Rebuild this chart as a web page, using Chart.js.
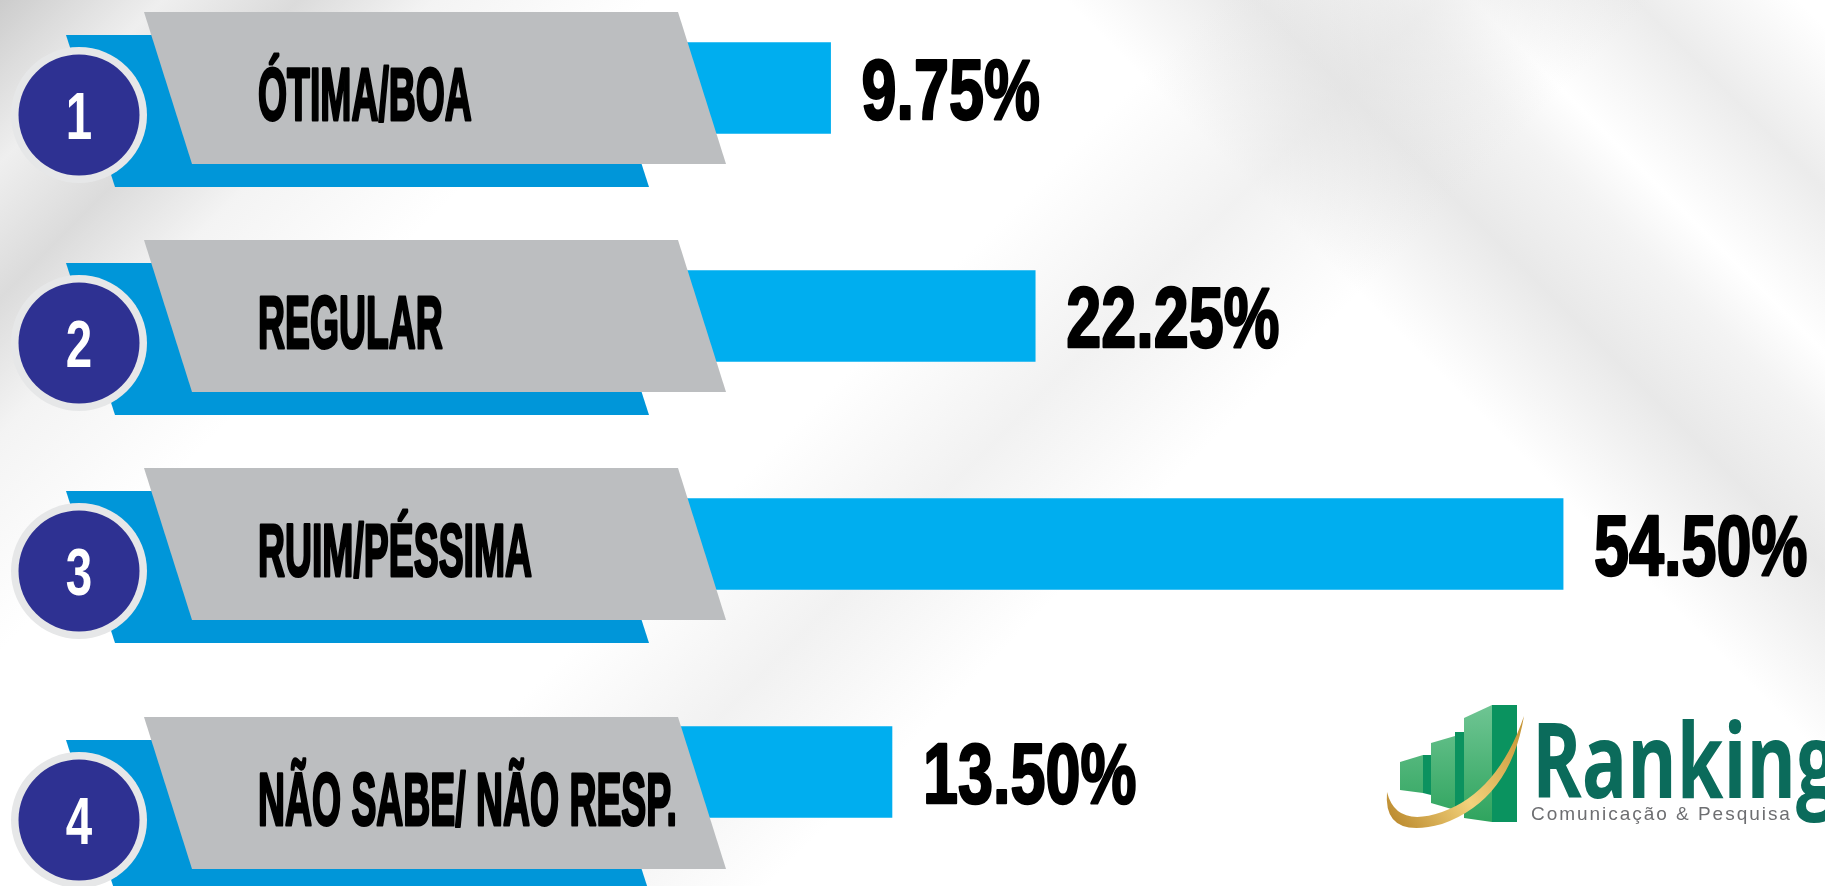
<!DOCTYPE html>
<html>
<head>
<meta charset="utf-8">
<script src="https://cdn.jsdelivr.net/npm/chart.js@4.4.0/dist/chart.umd.min.js"></script>
<style>
html, body { margin: 0; padding: 0; width: 1825px; height: 886px; overflow: hidden; }
body {
    background:
        linear-gradient(135deg, rgba(195,195,195,.85) 0%, rgba(228,228,228,.6) 6%, rgba(200,200,200,.65) 11%, rgba(232,232,232,.5) 16%, rgba(255,255,255,0) 24%),
        linear-gradient(135deg, rgba(255,255,255,0) 45%, rgba(225,225,225,.45) 53%, rgba(255,255,255,0) 61%),
        linear-gradient(45deg, rgba(255,255,255,0) 72%, rgba(205,205,205,.45) 79%, rgba(222,222,222,.35) 84%, rgba(255,255,255,0) 87%, rgba(212,212,212,.45) 93%, rgba(255,255,255,0) 99%),
        #ffffff;
}
#wrap { position: absolute; left: 0; top: -26px; width: 1825px; height: 912px; }
</style>
</head>
<body>
<div id="wrap"><canvas id="grafico"></canvas></div>
<script>
// dados do gráfico
const categorias = ['ÓTIMA/BOA', 'REGULAR', 'RUIM/PÉSSIMA', 'NÃO SABE/ NÃO RESP.'];
const porcentagens = [9.75, 22.25, 54.50, 13.50];
const numeros = ['1', '2', '3', '4'];

// deslocamento vertical dos enfeites de cada linha (a última está mais baixa)
const desloc = [0, 0, 0, 21];

function paralelogramo(ctx, x, y, w, h, incl, cor) {
    ctx.beginPath();
    ctx.moveTo(x, y);
    ctx.lineTo(x + w, y);
    ctx.lineTo(x + w + incl, y + h);
    ctx.lineTo(x + incl, y + h);
    ctx.closePath();
    ctx.fillStyle = cor;
    ctx.fill();
}

function texto(ctx, txt, x, y, tam, sx, cor, traco, alinhar) {
    ctx.save();
    ctx.translate(x, y);
    ctx.scale(sx, 1);
    ctx.font = 'bold ' + tam + 'px "Liberation Sans", Arial, sans-serif';
    ctx.textAlign = alinhar || 'left';
    ctx.textBaseline = 'alphabetic';
    ctx.fillStyle = cor;
    ctx.fillText(txt, 0, 0);
    if (traco) {
        ctx.lineWidth = traco;
        ctx.strokeStyle = cor;
        ctx.lineJoin = 'round';
        ctx.strokeText(txt, 0, 0);
    }
    ctx.restore();
}

const enfeites = {
    id: 'enfeites',
    beforeDatasetsDraw(chart) {
        const ctx = chart.ctx, y = chart.scales.y;
        categorias.forEach((c, i) => {
            const G = y.getPixelForValue(i) - 76 + desloc[i];
            paralelogramo(ctx, 66, G + 23, 534, 152, 49, '#0096D9');
        });
    },
    afterDatasetsDraw(chart) {
        const ctx = chart.ctx, x = chart.scales.x, y = chart.scales.y;
        categorias.forEach((c, i) => {
            const yc = y.getPixelForValue(i);
            const G = yc - 76 + desloc[i];
            // faixa cinza
            paralelogramo(ctx, 144, G, 534, 152, 48, '#BCBEC0');
            // círculo com número
            ctx.beginPath();
            ctx.arc(79, G + 103, 68, 0, Math.PI * 2);
            ctx.fillStyle = '#E6E7E8';
            ctx.fill();
            ctx.beginPath();
            ctx.arc(79, G + 103, 60.5, 0, Math.PI * 2);
            ctx.fillStyle = '#2E3192';
            ctx.fill();
            texto(ctx, numeros[i], 79, G + 127, 66, 0.72, '#ffffff', 0, 'center');
            // categoria
            texto(ctx, c, 258, G + 107.5, 74, 0.505, '#000000', 3);
            // porcentagem
            const xv = x.getPixelForValue(porcentagens[i]);
            texto(ctx, porcentagens[i].toFixed(2) + '%', xv + 31, yc + 30.5, 85, 0.74, '#000000', 2.5);
        });
    },
    afterDraw(chart) {
        const ctx = chart.ctx;
        ctx.save();
        ctx.translate(0, 26);
        // ícone: barras verdes
        const poli = (pts, cor) => {
            ctx.beginPath();
            ctx.moveTo(pts[0][0], pts[0][1]);
            pts.slice(1).forEach(p => ctx.lineTo(p[0], p[1]));
            ctx.closePath();
            ctx.fillStyle = cor;
            ctx.fill();
        };
        const claro = ctx.createLinearGradient(0, 705, 0, 822);
        claro.addColorStop(0, '#6FC593');
        claro.addColorStop(1, '#2FA45E');
        poli([[1400, 762], [1423, 755], [1423, 793], [1400, 790]], claro);
        poli([[1423, 755], [1431, 755], [1431, 795], [1423, 793]], '#0B925F');
        poli([[1431, 743], [1455, 736], [1455, 810], [1431, 803]], claro);
        poli([[1455, 732], [1464, 732], [1464, 813], [1455, 810]], '#0B925F');
        poli([[1464, 718], [1492, 705], [1492, 822], [1464, 818]], claro);
        poli([[1492, 705], [1517, 705], [1517, 822], [1492, 822]], '#0A935F');
        // arco dourado
        const ouro = ctx.createLinearGradient(1385, 820, 1525, 715);
        ouro.addColorStop(0, '#B8862A');
        ouro.addColorStop(0.45, '#F3D27C');
        ouro.addColorStop(1, '#C18F2E');
        ctx.beginPath();
        ctx.moveTo(1387, 792);
        ctx.quadraticCurveTo(1383, 840, 1442, 824);
        ctx.quadraticCurveTo(1510, 800, 1524, 716);
        ctx.quadraticCurveTo(1498, 792, 1442, 812);
        ctx.quadraticCurveTo(1396, 828, 1387, 792);
        ctx.fillStyle = ouro;
        ctx.fill();
        // nome
        ctx.font = 'bold 104px "Open Sans", "Noto Sans", sans-serif';
        const wRankin = ctx.measureText('Rankin').width;
        const sx = 264 / wRankin;
        ctx.save();
        ctx.translate(1532, 798);
        ctx.scale(sx, 1);
        ctx.fillStyle = '#0B6B5B';
        ctx.textBaseline = 'alphabetic';
        ctx.fillText('Ranking', 0, 0);
        ctx.restore();
        // subtítulo
        ctx.font = '19px "Liberation Sans", Arial, sans-serif';
        const sub = 'Comunicação & Pesquisa';
        const w0 = ctx.measureText(sub).width;
        ctx.letterSpacing = ((259 - w0) / (sub.length - 1)).toFixed(2) + 'px';
        ctx.fillStyle = '#6D6E71';
        ctx.fillText(sub, 1531, 820);
        ctx.restore();
    }
};

new Chart(document.getElementById('grafico'), {
    type: 'bar',
    data: {
        labels: categorias,
        datasets: [{
            data: porcentagens,
            backgroundColor: '#00AEEF',
            borderWidth: 0,
            barThickness: 91
        }]
    },
    options: {
        indexAxis: 'y',
        responsive: true,
        maintainAspectRatio: false,
        animation: false,
        layout: { padding: { left: 671, right: 0, top: 0, bottom: 0 } },
        plugins: { legend: { display: false }, tooltip: { enabled: false } },
        scales: {
            x: { display: false, min: 0, max: 70.5 },
            y: { display: false, offset: true }
        }
    },
    plugins: [enfeites]
});
</script>
</body>
</html>
